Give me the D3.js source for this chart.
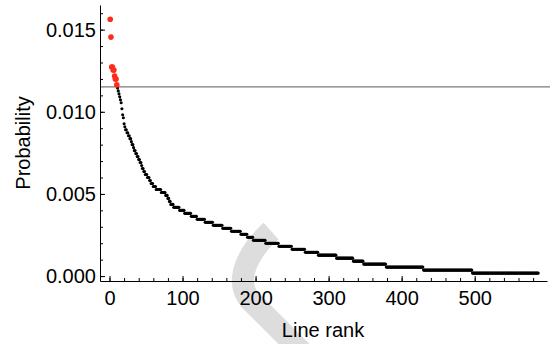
<!DOCTYPE html>
<html>
<head>
<meta charset="utf-8">
<script src="https://cdn.jsdelivr.net/npm/d3@7"></script>
<style>
  body { margin: 0; background: #fff; }
  svg { display: block; font-family: "Liberation Sans", Arial, sans-serif; }
</style>
</head>
<body>
<svg id="chart" width="550" height="344"></svg>
<script>
// observed counts per rank (descending), run-length encoded: counts[i] repeats runs[i] times
var counts = [86, 80, 70, 69, 67, 66, 64,
              63, 62, 61, 60, 59, 58, 56, 54, 53, 51, 50, 49,
              48, 47, 46, 45, 44, 43, 42, 41, 40, 39, 38, 37, 36, 35, 34, 33, 32, 31, 30,
              29, 28, 27, 26, 25, 24, 23, 22, 21, 20, 19, 18, 17, 16, 15, 14, 13,
              12, 11, 10, 9, 8, 7, 6, 5, 4, 3, 2, 1];
var runs   = [1, 1, 2, 2, 1, 2, 1,
              1, 1, 1, 1, 1, 1, 1, 1, 1, 1, 1, 2,
              2, 2, 2, 1, 2, 1, 2, 2, 2, 2, 2, 1, 2, 2, 3, 3, 2, 3, 4,
              7, 6, 3, 2, 2, 4, 8, 7, 9, 8, 11, 11, 13, 12, 13, 9, 8,
              17, 18, 18, 18, 18, 25, 23, 14, 31, 51, 67, 91];
var total = 5500;          // counts -> probability
var threshold = 0.01152;   // horizontal reference line

var xTicks = [0, 100, 200, 300, 400, 500];
var yTicks = [0, 0.005, 0.010, 0.015];

// expand into one point per rank
var data = [];
var rank = 1;
for (var i = 0; i < counts.length; i++) {
    for (var j = 0; j < runs[i]; j++) {
        data.push({rank: rank, p: counts[i] / total});
        rank++;
    }
}

var svg = d3.select("#chart");

var x = d3.scaleLinear().domain([-13, 599]).range([100, 547]);
var y = d3.scaleLinear().domain([-0.0003, 0.0165]).range([281, 5]);

// faint watermark behind the plot
svg.append("path")
    .attr("d", "M271,231 C252,248 232,278 250,300 L302,352")
    .attr("fill", "none")
    .attr("stroke", "#dddddd")
    .attr("stroke-width", 22);

// threshold line
svg.append("line")
    .attr("x1", 100).attr("x2", 550)
    .attr("y1", y(threshold)).attr("y2", y(threshold))
    .attr("stroke", "#7a7a7a")
    .attr("stroke-width", 1.2);

var fontSize = 20;

// minor ticks
svg.append("g")
    .attr("transform", "translate(0,281)")
    .call(d3.axisBottom(x).tickValues(d3.range(0, 600, 20)).tickSize(-3).tickSizeOuter(0).tickFormat(""))
    .call(function (g) { g.select(".domain").remove(); });
svg.append("g")
    .attr("transform", "translate(100,0)")
    .call(d3.axisLeft(y).tickValues(d3.range(0, 0.0165, 0.001)).tickSize(-3).tickSizeOuter(0).tickFormat(""))
    .call(function (g) { g.select(".domain").remove(); });

// major ticks + labels
var xAxis = svg.append("g")
    .attr("transform", "translate(0,281)")
    .call(d3.axisBottom(x).tickValues(xTicks).tickSize(-5).tickSizeOuter(0).tickPadding(10).tickFormat(d3.format("d")));
var yAxis = svg.append("g")
    .attr("transform", "translate(100,0)")
    .call(d3.axisLeft(y).tickValues(yTicks).tickSize(-5).tickSizeOuter(0).tickPadding(4).tickFormat(d3.format(".3f")));

svg.selectAll(".tick text")
    .attr("fill", "#000")
    .style("font-size", fontSize + "px")
    .style("font-family", "'Liberation Sans', Arial, sans-serif");
svg.selectAll(".tick line, .domain").attr("stroke", "#000");

// axis titles
svg.append("text")
    .attr("x", 323).attr("y", 337)
    .attr("text-anchor", "middle")
    .style("font-size", fontSize + "px")
    .text("Line rank");
svg.append("text")
    .attr("transform", "translate(30,143) rotate(-90)")
    .attr("text-anchor", "middle")
    .style("font-size", fontSize + "px")
    .text("Probability");

// points: black below threshold, then red above it on top
svg.append("g").selectAll("circle")
    .data(data.filter(function (d) { return d.p < threshold; }))
    .enter().append("circle")
    .attr("cx", function (d) { return x(d.rank); })
    .attr("cy", function (d) { return y(d.p); })
    .attr("r", 1.55)
    .attr("fill", "#000");

svg.append("g").selectAll("circle")
    .data(data.filter(function (d) { return d.p >= threshold; }))
    .enter().append("circle")
    .attr("cx", function (d) { return x(d.rank); })
    .attr("cy", function (d) { return y(d.p); })
    .attr("r", 2.8)
    .attr("fill", "#ff2a1a");
</script>
</body>
</html>
